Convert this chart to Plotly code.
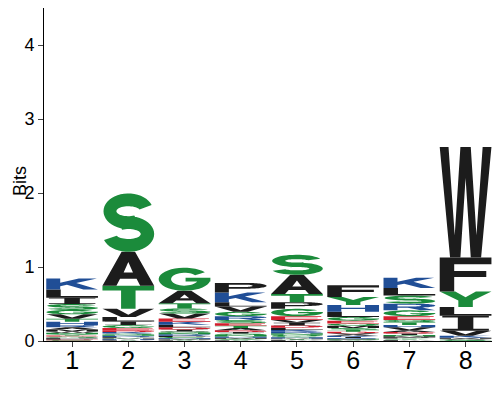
import numpy as np
import plotly.graph_objects as go

# Sequence logo: per position, letters listed top -> bottom with their heights in bits
POSITIONS = [1, 2, 3, 4, 5, 6, 7, 8]

POS1_LETTERS = ["K", "L", "I", "S", "G", "V", "T", "H", "R", "A", "M", "W", "N", "Y", "E", "Q", "P", "F", "D", "C"]
POS1_BITS = [0.15, 0.11, 0.085, 0.08, 0.06, 0.06, 0.04, 0.045, 0.03, 0.03, 0.025, 0.02, 0.02, 0.015, 0.015, 0.015, 0.015, 0.01, 0.01, 0.01]

POS2_LETTERS = ["S", "A", "T", "V", "L", "I", "G", "E", "D", "K", "Q", "N", "R", "P", "C", "M", "H", "Y", "F", "W"]
POS2_BITS = [0.79, 0.46, 0.31, 0.11, 0.06, 0.05, 0.04, 0.03, 0.025, 0.02, 0.015, 0.015, 0.015, 0.01, 0.01, 0.01, 0.01, 0.005, 0.005, 0.005]

POS3_LETTERS = ["G", "A", "T", "S", "V", "E", "K", "L", "D", "I", "Q", "N", "R", "P", "C", "H", "M", "Y", "F", "W"]
POS3_BITS = [0.31, 0.17, 0.07, 0.07, 0.065, 0.045, 0.04, 0.035, 0.03, 0.025, 0.02, 0.02, 0.02, 0.015, 0.015, 0.01, 0.01, 0.01, 0.005, 0.005]

POS4_LETTERS = ["P", "K", "L", "V", "G", "R", "S", "E", "T", "A", "D", "I", "Q", "N", "H", "M", "C", "Y", "F", "W"]
POS4_BITS = [0.13, 0.13, 0.06, 0.07, 0.06, 0.05, 0.045, 0.035, 0.03, 0.03, 0.025, 0.02, 0.02, 0.02, 0.015, 0.015, 0.01, 0.01, 0.005, 0.005]

POS5_LETTERS = ["S", "A", "T", "P", "G", "E", "V", "I", "D", "L", "K", "R", "N", "Q", "C", "H", "M", "Y", "F", "W"]
POS5_BITS = [0.27, 0.26, 0.11, 0.09, 0.1, 0.05, 0.04, 0.035, 0.03, 0.03, 0.025, 0.02, 0.02, 0.02, 0.015, 0.015, 0.01, 0.01, 0.01, 0.005]

POS6_LETTERS = ["F", "Y", "H", "L", "G", "E", "Q", "M", "S", "T", "D", "V", "A", "K", "I", "R", "N", "P", "C", "W"]
POS6_BITS = [0.16, 0.11, 0.09, 0.07, 0.05, 0.04, 0.03, 0.03, 0.025, 0.025, 0.02, 0.02, 0.015, 0.015, 0.015, 0.01, 0.01, 0.01, 0.005, 0.005]

POS7_LETTERS = ["K", "L", "S", "R", "G", "E", "Q", "T", "H", "V", "A", "D", "I", "N", "M", "P", "Y", "C", "F", "W"]
POS7_BITS = [0.14, 0.1, 0.11, 0.09, 0.08, 0.05, 0.03, 0.04, 0.03, 0.04, 0.025, 0.02, 0.02, 0.015, 0.015, 0.015, 0.01, 0.01, 0.01, 0.005]

POS8_LETTERS = ["W", "F", "Y", "L", "I", "V", "K", "M", "A", "C", "G"]
POS8_BITS = [1.49, 0.46, 0.21, 0.12, 0.2, 0.07, 0.025, 0.015, 0.01, 0.01, 0.01]

COLUMNS = [
    (POS1_LETTERS, POS1_BITS),
    (POS2_LETTERS, POS2_BITS),
    (POS3_LETTERS, POS3_BITS),
    (POS4_LETTERS, POS4_BITS),
    (POS5_LETTERS, POS5_BITS),
    (POS6_LETTERS, POS6_BITS),
    (POS7_LETTERS, POS7_BITS),
    (POS8_LETTERS, POS8_BITS),
]

BLACK, GREEN, BLUE, RED = "#1c1c1c", "#1b8b3b", "#204e96", "#d21e2d"
LETTER_COLORS = {
    **{c: BLACK for c in "AVLIPWFM"},
    **{c: GREEN for c in "GSTYCNQ"},
    **{c: BLUE for c in "KRH"},
    **{c: RED for c in "DE"},
}

LETTER_WIDTH = 0.92


# ---- glyph outlines in a unit box, as (ring, is_hole) ----
def arc(cx, cy, rx, ry, a0, a1, n=36):
    t = np.radians(np.linspace(a0, a1, n))
    return list(zip(cx + rx * np.cos(t), cy + ry * np.sin(t)))


def ring_arc(cx, cy, rxo, ryo, rxi, ryi, a0, a1):
    return arc(cx, cy, rxo, ryo, a0, a1) + arc(cx, cy, rxi, ryi, a1, a0)


def rect(x0, y0, x1, y1):
    return [(x0, y0), (x1, y0), (x1, y1), (x0, y1)]


P_OUTER = [(0, 0), (0.27, 0), (0.27, 0.4), (0.6, 0.4)] + arc(0.6, 0.7, 0.4, 0.3, -90, 90) + [(0, 1)]
P_HOLE = [(0.27, 0.58), (0.58, 0.58)] + arc(0.58, 0.7, 0.15, 0.12, -90, 90) + [(0.27, 0.82)]

GLYPHS = {
    "A": [([(0, 0), (0.37, 1), (0.63, 1), (1, 0), (0.73, 0), (0.66, 0.21), (0.34, 0.21), (0.27, 0)], False),
          ([(0.41, 0.39), (0.5, 0.7), (0.59, 0.39)], True)],
    "C": [(ring_arc(0.5, 0.5, 0.5, 0.5, 0.26, 0.28, 40, 320), False)],
    "D": [([(0, 0), (0.45, 0)] + arc(0.45, 0.5, 0.55, 0.5, -90, 90) + [(0, 1)], False),
          ([(0.27, 0.2), (0.45, 0.2)] + arc(0.45, 0.5, 0.28, 0.3, -90, 90) + [(0.27, 0.8)], True)],
    "E": [([(0, 0), (1, 0), (1, 0.2), (0.27, 0.2), (0.27, 0.42), (0.9, 0.42), (0.9, 0.6),
            (0.27, 0.6), (0.27, 0.8), (0.97, 0.8), (0.97, 1), (0, 1)], False)],
    "F": [([(0, 0), (0.28, 0), (0.28, 0.42), (0.9, 0.42), (0.9, 0.6), (0.28, 0.6),
            (0.28, 0.8), (1, 0.8), (1, 1), (0, 1)], False)],
    "G": [(ring_arc(0.5, 0.5, 0.5, 0.5, 0.26, 0.28, 38, 360), False),
          (rect(0.52, 0.4, 1.0, 0.56), False)],
    "H": [([(0, 0), (0.27, 0), (0.27, 0.42), (0.73, 0.42), (0.73, 0), (1, 0), (1, 1),
            (0.73, 1), (0.73, 0.6), (0.27, 0.6), (0.27, 1), (0, 1)], False)],
    "I": [(rect(0.05, 0, 0.95, 0.12), False), (rect(0.35, 0, 0.65, 1), False),
          (rect(0.05, 0.88, 0.95, 1), False)],
    "K": [([(0, 0), (0.27, 0), (0.27, 0.3), (0.4, 0.43), (0.72, 0), (1, 0), (0.58, 0.6),
            (0.98, 1), (0.63, 1), (0.27, 0.62), (0.27, 1), (0, 1)], False)],
    "L": [([(0, 0), (1, 0), (1, 0.2), (0.28, 0.2), (0.28, 1), (0, 1)], False)],
    "M": [([(0, 0), (0.22, 0), (0.22, 0.75), (0.42, 0), (0.58, 0), (0.78, 0.75), (0.78, 0),
            (1, 0), (1, 1), (0.68, 1), (0.5, 0.32), (0.32, 1), (0, 1)], False)],
    "N": [([(0, 0), (0.24, 0), (0.24, 0.65), (0.72, 0), (1, 0), (1, 1), (0.76, 1),
            (0.76, 0.35), (0.28, 1), (0, 1)], False)],
    "P": [(P_OUTER, False), (P_HOLE, True)],
    "Q": [(arc(0.5, 0.52, 0.5, 0.48, 0, 360, 60), False),
          (arc(0.5, 0.52, 0.27, 0.28, 0, 360, 60), True),
          ([(0.5, 0.24), (0.66, 0.38), (1.0, 0.1), (0.86, 0.0)], False)],
    "R": [(P_OUTER, False), (P_HOLE, True),
          ([(0.42, 0.44), (0.72, 0), (1.0, 0), (0.7, 0.5)], False)],
    "S": [(ring_arc(0.5, 0.695, 0.48, 0.305, 0.23, 0.085, 20, 300), False),
          (ring_arc(0.5, 0.305, 0.5, 0.305, 0.24, 0.085, 120, -160), False)],
    "T": [([(0, 1), (1, 1), (1, 0.8), (0.64, 0.8), (0.64, 0), (0.36, 0), (0.36, 0.8), (0, 0.8)], False)],
    "V": [([(0, 1), (0.28, 1), (0.5, 0.28), (0.72, 1), (1, 1), (0.64, 0), (0.36, 0)], False)],
    "W": [([(0, 1), (0.17, 1), (0.29, 0.2), (0.4, 1), (0.6, 1), (0.71, 0.2), (0.83, 1), (1, 1),
            (0.8, 0), (0.6, 0), (0.5, 0.72), (0.4, 0), (0.2, 0)], False)],
    "Y": [([(0, 1), (0.3, 1), (0.5, 0.62), (0.7, 1), (1, 1), (0.64, 0.42), (0.64, 0),
            (0.36, 0), (0.36, 0.42)], False)],
}


def oriented(ring, hole):
    pts = np.array(ring, dtype=float)
    x, y = pts[:, 0], pts[:, 1]
    area = 0.5 * np.sum(x * np.roll(y, -1) - np.roll(x, -1) * y)
    if (area > 0) == hole:
        pts = pts[::-1]
    return pts


def letter_path(letter, xc, base, height):
    parts = []
    for ring, hole in GLYPHS[letter]:
        pts = oriented(ring, hole)
        xs = xc - LETTER_WIDTH / 2 + pts[:, 0] * LETTER_WIDTH
        ys = base + pts[:, 1] * height
        coords = " L".join(f"{a:.4f},{b:.5f}" for a, b in zip(xs, ys))
        parts.append(f"M{coords} Z")
    return " ".join(parts)


fig = go.Figure()
shapes = []
for pos, (letters, bits) in zip(POSITIONS, COLUMNS):
    # stack from the bottom: last listed letter sits lowest
    base = 0.0
    for letter, h in reversed(list(zip(letters, bits))):
        shapes.append(dict(
            type="path",
            path=letter_path(letter, pos, base, h),
            xref="x", yref="y",
            fillcolor=LETTER_COLORS[letter],
            fillrule="nonzero",
            line=dict(width=0),
            layer="above",
        ))
        base += h

# invisible trace so the axes exist
fig.add_trace(go.Scatter(x=POSITIONS, y=[0] * len(POSITIONS), mode="markers",
                         marker=dict(opacity=0), hoverinfo="skip", showlegend=False))

fig.update_layout(
    width=500,
    height=400,
    margin=dict(l=36, r=16, t=0, b=67),
    plot_bgcolor="white",
    paper_bgcolor="white",
    font=dict(family="Liberation Sans, Arial, sans-serif", color="black"),
    shapes=shapes,
    showlegend=False,
)
# y-axis title placed by hand: standoff is ignored without automargin
fig.add_annotation(
    text="Bits",
    xref="paper", yref="paper",
    x=-0.054, y=0.48,
    xanchor="center", yanchor="middle",
    textangle=-90,
    showarrow=False,
    font=dict(size=18),
)
fig.update_xaxes(
    range=[0.5, 8.47],
    tickvals=POSITIONS,
    ticktext=[str(p) for p in POSITIONS],
    tickfont=dict(size=25),
    ticks="outside",
    ticklen=5,
    ticklabelstandoff=-8,
    showline=True,
    linecolor="black",
    linewidth=1,
    showgrid=False,
    zeroline=False,
    automargin=False,
)
fig.update_yaxes(
    range=[0, 4.5],
    tickvals=[0, 1, 2, 3, 4],
    tickfont=dict(size=18),
    ticks="outside",
    ticklen=5,
    showline=True,
    linecolor="black",
    linewidth=1,
    showgrid=False,
    zeroline=False,
    automargin=False,
)

fig.write_html("out.html")
